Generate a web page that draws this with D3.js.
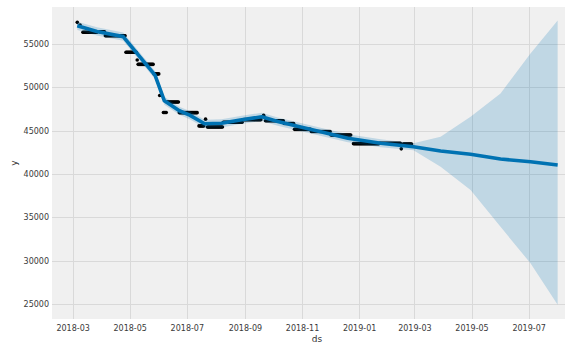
<!DOCTYPE html>
<html>
<head>
<meta charset="utf-8">
<script src="https://cdn.jsdelivr.net/npm/d3@7"></script>
<style>
  body { margin: 0; background: #ffffff; }
  svg { display: block; }
  text { font-family: "DejaVu Sans", sans-serif; }
</style>
</head>
<body>
<svg id="chart" width="565" height="343"></svg>
<script>
// Observed history: the value holds constant over each [start, end] run of days
const obsStart = ["2018-03-06","2018-03-09","2018-03-12","2018-03-30","2018-04-05","2018-04-27","2018-05-09","2018-05-10","2018-05-27","2018-06-02","2018-06-06","2018-06-10","2018-06-23","2018-07-14","2018-07-21","2018-07-23","2018-08-09","2018-08-31","2018-09-21","2018-09-23","2018-10-13","2018-10-24","2018-11-11","2018-12-02","2018-12-26","2019-01-23","2019-02-15","2019-02-17"];
const obsEnd   = ["2018-03-06","2018-03-09","2018-03-27","2018-04-04","2018-04-26","2018-05-08","2018-05-09","2018-05-26","2018-06-01","2018-06-02","2018-06-09","2018-06-22","2018-07-12","2018-07-19","2018-07-21","2018-08-08","2018-08-29","2018-09-18","2018-09-21","2018-10-12","2018-10-23","2018-11-10","2018-12-01","2018-12-23","2019-01-22","2019-02-14","2019-02-15","2019-02-26"];
const obsValue = [57500,57200,56350,56420,55950,54050,53150,52650,51550,49050,47100,48300,47080,45550,46330,45420,45980,46270,46780,46150,45820,45150,44900,44500,43500,43550,42900,43450];

// Fitted trend and forecast with its uncertainty interval
const fcDates = ["2018-03-06","2018-03-27","2018-04-24","2018-05-28","2018-06-07","2018-06-23","2018-07-04","2018-07-20","2018-08-07","2018-08-27","2018-09-19","2018-10-06","2018-12-20","2019-01-24","2019-02-28","2019-03-29","2019-04-30","2019-06-01","2019-07-03","2019-08-01"];
const fcYhat  = [57100,56450,55850,51420,48450,47300,46800,45800,45850,46230,46600,46050,44120,43540,43150,42650,42270,41730,41420,41040];
const fcLower = [56620,55980,55380,50950,47980,46830,46330,45330,45380,45760,46130,45580,43650,43080,42750,40850,38150,33900,29700,24900];
const fcUpper = [57580,56920,56320,51890,48920,47770,47270,46270,46320,46700,47070,46520,44590,44010,43550,44300,46600,49300,53900,57700];

const xTickLabels = ["2018-03","2018-05","2018-07","2018-09","2018-11","2019-01","2019-03","2019-05","2019-07"];
const yTickValues = [25000,30000,35000,40000,45000,50000,55000];

const parse = d3.utcParse("%Y-%m-%d");
const parseMonth = d3.utcParse("%Y-%m");

const svg = d3.select("#chart");
const plot = { left: 52, right: 582, top: 7, bottom: 319 };

const x = d3.scaleUtc()
  .domain([parse("2018-02-07"), parse("2019-08-27")])
  .range([plot.left, plot.right]);
const y = d3.scaleLinear()
  .domain([23270, 59270])
  .range([plot.bottom, plot.top]);

// expand each run into daily observations
const observed = [];
obsStart.forEach((s, i) => {
  const days = d3.utcDay.range(parse(s), d3.utcDay.offset(parse(obsEnd[i]), 1));
  days.forEach(d => observed.push({ date: d, value: obsValue[i] }));
});

const forecast = fcDates.map((d, i) => ({
  date: parse(d), yhat: fcYhat[i], lower: fcLower[i], upper: fcUpper[i]
}));

// plotting area
svg.append("rect")
  .attr("x", plot.left).attr("y", plot.top)
  .attr("width", plot.right - plot.left).attr("height", plot.bottom - plot.top)
  .attr("fill", "#f0f0f0");

svg.append("clipPath").attr("id", "clip")
  .append("rect")
  .attr("x", plot.left).attr("y", plot.top)
  .attr("width", plot.right - plot.left).attr("height", plot.bottom - plot.top);

const xTicks = xTickLabels.map(t => parseMonth(t));

// grid
const grid = svg.append("g").attr("shape-rendering", "crispEdges");
grid.selectAll(".gx").data(xTicks).join("line")
  .attr("x1", d => Math.round(x(d)) + 0.5).attr("x2", d => Math.round(x(d)) + 0.5)
  .attr("y1", plot.top).attr("y2", plot.bottom)
  .attr("stroke", "#d9d9d9").attr("stroke-width", 1);
grid.selectAll(".gy").data(yTickValues).join("line")
  .attr("x1", plot.left).attr("x2", plot.right)
  .attr("y1", d => Math.round(y(d)) + 0.5).attr("y2", d => Math.round(y(d)) + 0.5)
  .attr("stroke", "#d9d9d9").attr("stroke-width", 1);

const g = svg.append("g").attr("clip-path", "url(#clip)");

// observed points
g.append("g").selectAll("circle").data(observed).join("circle")
  .attr("cx", d => x(d.date)).attr("cy", d => y(d.value))
  .attr("r", 1.8).attr("fill", "#000");

// fitted / forecast line
g.append("path").datum(forecast)
  .attr("d", d3.line().x(d => x(d.date)).y(d => y(d.yhat)))
  .attr("fill", "none").attr("stroke", "#0072B2")
  .attr("stroke-width", 3.6).attr("stroke-linejoin", "round");

// uncertainty interval
g.append("path").datum(forecast)
  .attr("d", d3.area().x(d => x(d.date)).y0(d => y(d.lower)).y1(d => y(d.upper)))
  .attr("fill", "#0072B2").attr("fill-opacity", 0.2);

// axes
const xAxis = svg.append("g")
  .attr("transform", `translate(0,${plot.bottom})`)
  .call(d3.axisBottom(x).tickValues(xTicks).tickFormat(d3.utcFormat("%Y-%m")).tickSize(0).tickPadding(6));
const yAxis = svg.append("g")
  .attr("transform", `translate(${plot.left},0)`)
  .call(d3.axisLeft(y).tickValues(yTickValues).tickFormat(d3.format("d")).tickSize(0).tickPadding(3));
[xAxis, yAxis].forEach(a => {
  a.select(".domain").remove();
  a.selectAll("text").attr("fill", "#3a3a3a").style("font-size", "8px")
    .style("font-family", "'DejaVu Sans', sans-serif");
});

svg.append("text")
  .attr("x", (plot.left + plot.right) / 2).attr("y", 342)
  .attr("text-anchor", "middle").attr("fill", "#333")
  .style("font-size", "9px").text("ds");
svg.append("text")
  .attr("transform", `translate(17,${(plot.top + plot.bottom) / 2}) rotate(-90)`)
  .attr("text-anchor", "middle").attr("fill", "#333")
  .style("font-size", "9px").text("y");
</script>
</body>
</html>
